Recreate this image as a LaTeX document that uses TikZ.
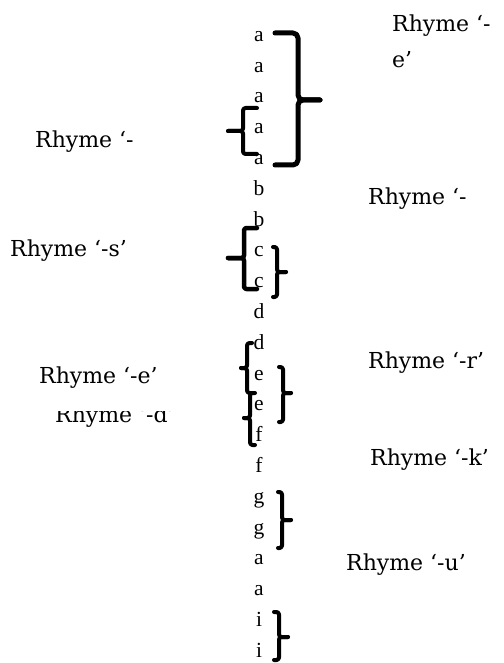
\documentclass[tikz,border=0pt]{standalone}
\usepackage{fontspec}
\setmainfont{Liberation Serif}
\newfontfamily\labfont{DejaVu Serif}
\newcommand\mybrace[7][]{%
  \draw[#1] (#6,#3) -- (#2,#3) -- (#2,#4) -- (#7,#4);
  \draw[#1] (#6,#5) -- (#2,#5) -- (#2,#4) -- (#7,#4);}
\begin{document}
\begin{tikzpicture}[x=1pt,y=-1pt,
  letter/.style={anchor=mid, inner sep=0pt, font=\fontsize{21.5}{25}\selectfont},
  lab/.style={anchor=base west, inner sep=0pt, font=\labfont\fontsize{22}{36}\selectfont},
  brc/.style={line width=4pt, rounded corners=2.5pt, line cap=round, line join=round},
  bigbrc/.style={brc, line width=5pt, rounded corners=5pt}]
\useasboundingbox (0,0) rectangle (503,663);
\fill[white] (0,0) rectangle (503,663);
% letter column
\foreach \t [count=\i from 0] in {a,a,a,a,a,b,b,c,c,d,d,e,e,f,f,g,g,a,a,i,i}
  \node[letter] (l\i) at (259, 39+30.8*\i) {\t};
% braces: X, top, middle, bottom, arm end, tick end
\mybrace[bigbrc]{298}{33}{100}{165}{275}{320}
\mybrace[brc]{243}{108}{131}{154}{257}{228}
\mybrace[brc, line width=4.5pt]{244}{228}{258}{289}{257}{228}
\mybrace[brc]{277}{247}{272}{297}{273}{286}
\mybrace[brc]{247}{343}{368}{393}{252}{241}
\mybrace[brc]{250}{393}{418}{445}{255}{244}
\mybrace[brc]{283}{367}{393}{422}{279}{291}
\mybrace[brc]{282}{492}{520}{548}{278}{291}
\mybrace[brc]{279}{612}{637}{660}{274}{288}
% labels
\node[lab] (r1) at (392,32) {\begin{tabular}[t]{@{}l@{}}Rhyme ‘-\\e’\end{tabular}};
\node[lab] (r2) at (35,148) {Rhyme ‘-};
\node[lab] (r3) at (368,204) {Rhyme ‘-};
\node[lab] (r4) at (10,256) {Rhyme ‘-s’};
\node[lab] (r5) at (39,383) {Rhyme ‘-e’};
\begin{scope}
  \clip (0,411.5) rectangle (240,440);
  \node[lab] (r6) at (55,422) {Rhyme ‘-d’};
\end{scope}
\node[lab] (r7) at (368,368) {Rhyme ‘-r’};
\node[lab] (r8) at (370,465) {Rhyme ‘-k’};
\node[lab] (r9) at (346,570) {Rhyme ‘-u’};
\end{tikzpicture}
\end{document}
